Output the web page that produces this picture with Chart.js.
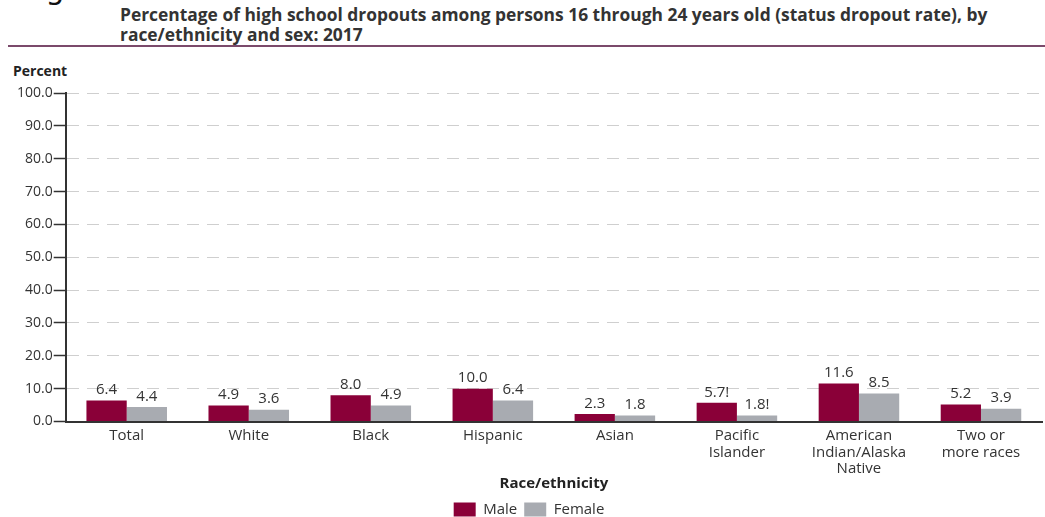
<!DOCTYPE html>
<html>
<head>
    <title>Status dropout rate by race/ethnicity and sex: 2017</title>
    <script src="https://cdn.jsdelivr.net/npm/chart.js"></script>
    <style>
        body { margin: 0; background: #fff; font-family: "Open Sans", sans-serif; }
        #wrap { position: relative; width: 1045px; height: 517px; overflow: hidden; }
        #fig { position: absolute; left: 22px; top: -29px; font-family: "DejaVu Sans", sans-serif; font-size: 30px; color: #111; }
        #title { position: absolute; left: 120px; top: 4px; font-size: 17.4px; font-weight: bold; color: #333; line-height: 20px; }
        #rule { position: absolute; left: 8px; right: 0; top: 45px; height: 2px; background: #7b4a6b; }
        #ylab { position: absolute; left: 13px; top: 61px; font-size: 14px; font-weight: bold; color: #222; }
        canvas { position: absolute; left: 0; top: 0; }
    </style>
</head>
<body>
<div id="wrap">
    <div id="fig">Figure</div>
    <div id="title">Percentage of high school dropouts among persons 16 through 24 years old (status dropout rate), by<br>race/ethnicity and sex: 2017</div>
    <div id="rule"></div>
    <div id="ylab">Percent</div>
    <canvas id="chart" width="1045" height="517"></canvas>
</div>

<script>
    // categories and values
    const categories = ['Total', 'White', 'Black', 'Hispanic', 'Asian', ['Pacific', 'Islander'], ['American', 'Indian/Alaska', 'Native'], ['Two or', 'more races']];
    const maleValues = [6.4, 4.9, 8.0, 10.0, 2.3, 5.7, 11.6, 5.2];
    const femaleValues = [4.4, 3.6, 4.9, 6.4, 1.8, 1.8, 8.5, 3.9];
    // value labels as printed (! = interpret with caution)
    const maleLabels = ['6.4', '4.9', '8.0', '10.0', '2.3', '5.7!', '11.6', '5.2'];
    const femaleLabels = ['4.4', '3.6', '4.9', '6.4', '1.8', '1.8!', '8.5', '3.9'];
    const yTicks = [0, 10, 20, 30, 40, 50, 60, 70, 80, 90, 100];

    const textColor = '#333';
    const labelFont = '"Open Sans", sans-serif';

    // draws the value text above every bar
    const valueLabels = {
        id: 'valueLabels',
        afterDatasetsDraw(chart) {
            const ctx = chart.ctx;
            const texts = [maleLabels, femaleLabels];
            ctx.save();
            ctx.font = '15px ' + labelFont;
            ctx.fillStyle = textColor;
            ctx.textAlign = 'center';
            ctx.textBaseline = 'bottom';
            chart.data.datasets.forEach((ds, i) => {
                chart.getDatasetMeta(i).data.forEach((bar, j) => {
                    ctx.fillText(texts[i][j], bar.x, bar.y - 3);
                });
            });
            ctx.restore();
        }
    };

    new Chart(document.getElementById('chart'), {
        type: 'bar',
        data: {
            labels: categories,
            datasets: [
                { label: 'Male', data: maleValues, backgroundColor: '#8a0038' },
                { label: 'Female', data: femaleValues, backgroundColor: '#a8abb1' }
            ]
        },
        options: {
            responsive: false,
            animation: false,
            layout: { padding: { top: 93, right: 3, left: 16, bottom: -10 } },
            datasets: { bar: { categoryPercentage: 0.66, barPercentage: 1.0 } },
            plugins: {
                legend: {
                    position: 'bottom',
                    labels: {
                        boxWidth: 22, boxHeight: 14, padding: 7,
                        color: textColor,
                        font: { family: labelFont, size: 15 }
                    }
                },
                tooltip: { enabled: false }
            },
            scales: {
                x: {
                    grid: { display: false },
                    border: { color: '#333', width: 2 },
                    ticks: { color: textColor, font: { family: labelFont, size: 15, lineHeight: 1.1 }, maxRotation: 0, autoSkip: false, padding: -2 },
                    title: { display: true, text: 'Race/ethnicity', color: '#222', font: { family: labelFont, size: 15, weight: 'bold' }, padding: { top: 0, bottom: 2 } }
                },
                y: {
                    min: 0, max: 100,
                    afterBuildTicks(scale) { scale.ticks = yTicks.map(v => ({ value: v })); },
                    grid: { color: '#cfcfcf', lineWidth: 1, tickColor: '#333', tickLength: 12, tickWidth: 1.5 },
                    border: { color: '#333', width: 2, dash: [12, 8] },
                    ticks: { color: textColor, font: { family: labelFont, size: 14 }, padding: 1, callback: v => v.toFixed(1) }
                }
            }
        },
        plugins: [valueLabels]
    });
</script>
</body>
</html>
